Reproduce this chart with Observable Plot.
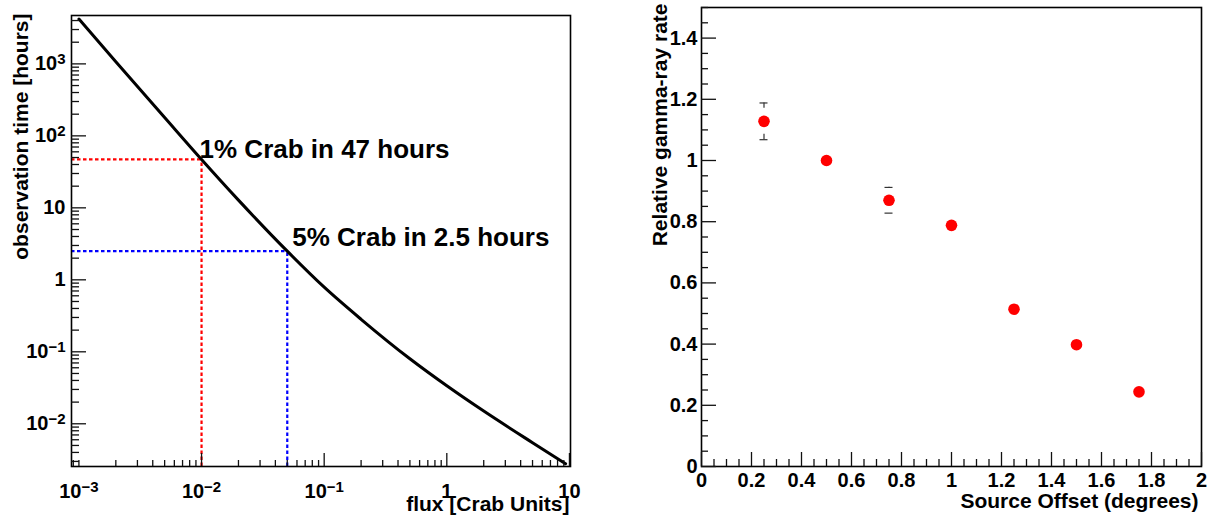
<!DOCTYPE html>
<html><head><meta charset="utf-8">
<script src="https://cdn.jsdelivr.net/npm/d3@7"></script>
<script src="https://cdn.jsdelivr.net/npm/@observablehq/plot@0.6"></script>
<style>
html,body{margin:0;padding:0;background:#fff;}
#wrap{position:relative;width:1212px;height:517px;overflow:hidden;background:#fff;}
#left,#right{position:absolute;top:0;}
#left{left:0;} #right{left:606px;}
</style></head>
<body><div id="wrap"><div id="left"></div><div id="right"></div></div>
<script>
// ---------- Left panel data: observation time vs flux ----------
const fluxValues  = [0.001, 0.002, 0.005, 0.01, 0.02, 0.05, 0.1, 0.2, 0.5, 1, 2, 5, 9.3];
const hoursValues = [4200, 1070, 180, 47, 12.8, 2.5, 0.79, 0.283, 0.080, 0.0337, 0.0150, 0.00546, 0.00279];
const markerFlux   = [0.01, 0.05];
const markerHours  = [47, 2.5];
const markerLabels = ["1% Crab in 47 hours", "5% Crab in 2.5 hours"];
const markerColors = ["#ff0000", "#0000ff"];
const xTickValuesLeft = [0.001, 0.01, 0.1, 1, 10];
const xTickLabelsLeft = ["10\u207B\u00B3", "10\u207B\u00B2", "10\u207B\u00B9", "1", "10"];
const yTickValuesLeft = [0.01, 0.1, 1, 10, 100, 1000];
const yTickLabelsLeft = ["10\u207B\u00B2", "10\u207B\u00B9", "1", "10", "10\u00B2", "10\u00B3"];
const xDomainLeft = [0.00087, 10.2];
const yDomainLeft = [0.00255, 4700];

// ---------- Right panel data: relative rate vs offset ----------
const offsets    = [0.25, 0.5, 0.75, 1.0, 1.25, 1.5, 1.75];
const rates      = [1.128, 1.0, 0.870, 0.788, 0.514, 0.398, 0.244];
const rateErrors = [0.060, 0.0, 0.042, 0.0, 0.0, 0.0, 0.0];
const xTickValuesRight = [0, 0.2, 0.4, 0.6, 0.8, 1, 1.2, 1.4, 1.6, 1.8, 2];
const xTickLabelsRight = ["0", "0.2", "0.4", "0.6", "0.8", "1", "1.2", "1.4", "1.6", "1.8", "2"];
const yTickValuesRight = [0, 0.2, 0.4, 0.6, 0.8, 1, 1.2, 1.4];
const yTickLabelsRight = ["0", "0.2", "0.4", "0.6", "0.8", "1", "1.2", "1.4"];

const FONT = "'Liberation Sans', Arial, Helvetica, sans-serif";

// tables built from the arrays
const curve = fluxValues.map((f, i) => ({flux: f, hours: hoursValues[i]}));
const markers = markerFlux.map((f, i) => ({flux: f, hours: markerHours[i], label: markerLabels[i], color: markerColors[i]}));
const points = offsets.map((o, i) => ({offset: o, rate: rates[i], err: rateErrors[i], lo: rates[i] - rateErrors[i], hi: rates[i] + rateErrors[i]}));
const errPoints = points.filter(d => d.err > 0);

// log minor ticks
function logMinor(domain) {
  const out = [];
  for (let k = -4; k <= 4; k++) for (let m = 1; m <= 9; m++) {
    const v = m * Math.pow(10, k);
    if (v >= domain[0] && v <= domain[1]) out.push(v);
  }
  return out;
}
const xMinorLeft = logMinor(xDomainLeft).filter(v => !xTickValuesLeft.slice(1).some(t => Math.abs(t - v) / t < 1e-9));
const yMinorLeft = logMinor(yDomainLeft).filter(v => !yTickValuesLeft.some(t => Math.abs(t - v) / t < 1e-9));
const xMinorRight = d3.range(0, 41).map(i => +(i * 0.05).toFixed(2)).filter((v, i) => i % 4 !== 0);
const yMinorRight = d3.range(0, 31).map(i => +(i * 0.05).toFixed(2)).filter((v, i) => i % 4 !== 0);

const lab = (vals, labels) => d => labels[vals.findIndex(v => Math.abs(v - d) <= 1e-9 * Math.max(1, Math.abs(v)))];

const style = {fontFamily: FONT, fontWeight: "bold", fontSize: "20px", color: "#000", background: "#fff", overflow: "visible"};

const left = Plot.plot({
  width: 606, height: 517,
  marginLeft: 71, marginRight: 36, marginTop: 15, marginBottom: 51,
  style,
  x: {type: "log", domain: xDomainLeft},
  y: {type: "log", domain: yDomainLeft},
  marks: [
    ...markers.map(d => Plot.ruleY([d], {y: "hours", x1: xDomainLeft[0], x2: "flux", stroke: d.color, strokeWidth: 2.2, strokeDasharray: "3.5,2.5"})),
    ...markers.map(d => Plot.ruleX([d], {x: "flux", y1: yDomainLeft[0], y2: "hours", stroke: d.color, strokeWidth: 2.2, strokeDasharray: "3.5,2.5"})),
    Plot.line(curve, {x: "flux", y: "hours", stroke: "#000", strokeWidth: 3, curve: "monotone-x"}),
    Plot.text([markers[0]], {x: "flux", y: "hours", text: "label", textAnchor: "start", lineAnchor: "middle", dx: -2, dy: -10, fontSize: 26}),
    Plot.text([markers[1]], {x: "flux", y: "hours", text: "label", textAnchor: "start", lineAnchor: "middle", dx: 5, dy: -13.5, fontSize: 26}),
    Plot.frame({stroke: "#000", strokeWidth: 1.6}),
    Plot.axisX({ticks: xMinorLeft, tickSize: -6, fill: "none", stroke: "#111", strokeWidth: 1.3, label: null}),
    Plot.axisX({ticks: xTickValuesLeft.slice(1), tickSize: -13, fill: "none", stroke: "#111", strokeWidth: 1.3, label: null}),
    Plot.axisX({ticks: xTickValuesLeft, tickSize: 0, tickPadding: 17, tickFormat: lab(xTickValuesLeft, xTickLabelsLeft), label: null}),
    Plot.axisY({ticks: yMinorLeft, tickSize: -8, fill: "none", stroke: "#111", strokeWidth: 1.3, label: null}),
    Plot.axisY({ticks: yTickValuesLeft, tickSize: -15, fill: "none", stroke: "#111", strokeWidth: 1.3, label: null}),
    Plot.axisY({ticks: yTickValuesLeft, tickSize: 0, tickPadding: 6, tickFormat: lab(yTickValuesLeft, yTickLabelsLeft), label: null}),
    Plot.text(["flux [Crab Units]"], {frameAnchor: "bottom-right", text: d => d, textAnchor: "end", lineAnchor: "bottom", dx: -1, dy: 44, fontSize: 21}),
    Plot.text(["observation time [hours]"], {frameAnchor: "top-left", text: d => d, rotate: -90, textAnchor: "end", lineAnchor: "middle", dx: -50, dy: -2, fontSize: 21})
  ]
});
document.getElementById("left").append(left);

// render the power-of-ten tick labels with a raised exponent, as ROOT does
const supMap = {"\u207B": "\u2212", "\u00B9": "1", "\u00B2": "2", "\u00B3": "3"};
left.querySelectorAll("text").forEach(node => {
  const s = (node.textContent || "").trim();
  if (s.length < 3 || s.slice(0, 2) !== "10") return;
  const rest = Array.from(s.slice(2));
  if (!rest.every(c => c in supMap)) return;
  const exp = rest.map(c => supMap[c]).join("");
  while (node.firstChild) node.removeChild(node.firstChild);
  const ns = "http://www.w3.org/2000/svg";
  const a = document.createElementNS(ns, "tspan");
  a.textContent = "10";
  const b = document.createElementNS(ns, "tspan");
  b.setAttribute("dy", "-0.4em");
  b.setAttribute("font-size", "15px");
  b.textContent = exp;
  node.appendChild(a);
  node.appendChild(b);
});

const right = Plot.plot({
  width: 606, height: 517,
  marginLeft: 95, marginRight: 11, marginTop: 7, marginBottom: 51,
  style,
  x: {domain: [0, 2]},
  y: {domain: [0, 1.5]},
  marks: [
    Plot.frame({stroke: "#000", strokeWidth: 1.6}),
    Plot.axisX({ticks: xMinorRight, tickSize: -7, fill: "none", stroke: "#111", strokeWidth: 1.3, label: null}),
    Plot.axisX({ticks: xTickValuesRight, tickSize: -14, fill: "none", stroke: "#111", strokeWidth: 1.3, label: null}),
    Plot.axisX({ticks: xTickValuesRight, tickSize: 0, tickPadding: 6, tickFormat: lab(xTickValuesRight, xTickLabelsRight), label: null}),
    Plot.axisY({ticks: yMinorRight, tickSize: -7, fill: "none", stroke: "#111", strokeWidth: 1.3, label: null}),
    Plot.axisY({ticks: yTickValuesRight, tickSize: -15, fill: "none", stroke: "#111", strokeWidth: 1.3, label: null}),
    Plot.axisY({ticks: yTickValuesRight, tickSize: 0, tickPadding: 4, tickFormat: lab(yTickValuesRight, yTickLabelsRight), label: null}),
    // error bars (stems leave a gap around the marker, as in the original)
    Plot.ruleX(errPoints, {x: "offset", y1: "hi", y2: "rate", insetBottom: 13, stroke: "#333", strokeWidth: 1.2}),
    Plot.ruleX(errPoints, {x: "offset", y1: "rate", y2: "lo", insetTop: 13, stroke: "#333", strokeWidth: 1.2}),
    Plot.ruleY(errPoints, {y: "hi", x1: "offset", x2: "offset", insetLeft: -4, insetRight: -4, stroke: "#333", strokeWidth: 1.2}),
    Plot.ruleY(errPoints, {y: "lo", x1: "offset", x2: "offset", insetLeft: -4, insetRight: -4, stroke: "#333", strokeWidth: 1.2}),
    Plot.dot(points, {x: "offset", y: "rate", r: 5.8, fill: "#ff0000", stroke: "none"}),
    Plot.text(["Source Offset (degrees)"], {frameAnchor: "bottom-right", text: d => d, textAnchor: "end", lineAnchor: "bottom", dx: -3, dy: 41, fontSize: 21}),
    Plot.text(["Relative gamma-ray rate"], {frameAnchor: "top-left", text: d => d, rotate: -90, textAnchor: "end", lineAnchor: "middle", dx: -41, dy: -4, fontSize: 21})
  ]
});
document.getElementById("right").append(right);
</script>
</body></html>
